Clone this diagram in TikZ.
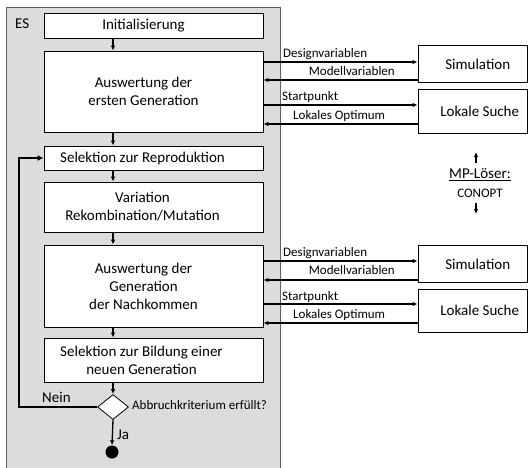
\documentclass[tikz,border=0pt]{standalone}
\usepackage{fontspec}
\setmainfont{Carlito}
\usetikzlibrary{arrows.meta}
\usetikzlibrary{shapes.geometric}
\definecolor{esgray}{HTML}{DCDCDC}
\definecolor{esframe}{HTML}{606060}

\begin{document}
\begin{tikzpicture}[x=1pt,y=-1pt,
    box/.style={draw=black,fill=white,line width=0.8pt,inner sep=0pt},
    txt/.style={align=center,font=\fontsize{15}{18}\selectfont,inner sep=0pt},
    lbl/.style={font=\fontsize{13}{15}\selectfont,inner sep=1pt},
    arr/.style={line width=1.3pt,-{Latex[length=5pt,width=4.5pt]}}]
  \useasboundingbox (0,0) rectangle (528,467);

  % ES frame
  \node[draw=esframe,fill=esgray,line width=0.9pt,minimum width=274pt,
    minimum height=470pt,inner sep=0pt](es) at (143.5,242) {};
  \node[txt,anchor=west](eslbl) at (15,24) {ES};

  % left column (frames first, text a bit left of centre)
  \node[box,minimum width=219pt,minimum height=25pt](init) at (153.5,25.5) {};
  \node[box,minimum width=219pt,minimum height=81pt](aw1) at (153.5,91.5) {};
  \node[box,minimum width=219pt,minimum height=24pt](sel) at (153.5,158) {};
  \node[box,minimum width=219pt,minimum height=50pt](var) at (153.5,207) {};
  \node[box,minimum width=219pt,minimum height=82pt](aw2) at (153.5,286) {};
  \node[box,minimum width=219pt,minimum height=44pt](selb) at (153.5,360) {};
  \node[txt](initt) at ([xshift=-10pt]init.center) {Initialisierung};
  \node[txt](aw1t) at ([xshift=-10pt]aw1.center) {Auswertung der\\ersten Generation};
  \node[txt](selt) at ([xshift=-11pt]sel.center) {Selektion zur Reproduktion};
  \node[txt](vart) at ([xshift=-11pt]var.center) {Variation\\Rekombination/Mutation};
  \node[txt](aw2t) at ([xshift=-10pt]aw2.center) {Auswertung der\\Generation\\der Nachkommen};
  \node[txt](selbt) at ([xshift=-12pt]selb.center) {Selektion zur Bildung einer\\neuen Generation};

  \node[draw=black,fill=white,line width=0.8pt,diamond,minimum width=31pt,
    minimum height=25pt,inner sep=0pt](ab) at (113,407) {};
  \node[lbl,anchor=west](abt) at (131,405) {Abbruchkriterium erfüllt?};
  \node[fill=black,circle,minimum size=13pt,inner sep=0pt](end) at (112,452) {};

  \draw[arr] (init.south -| ab) -- (aw1.north -| ab);
  \draw[arr] (aw1.south -| ab) -- (sel.north -| ab);
  \draw[arr] (sel.south -| ab) -- (var.north -| ab);
  \draw[arr] (var.south -| ab) -- (aw2.north -| ab);
  \draw[arr] (aw2.south -| ab) -- (selb.north -| ab);
  \draw[arr] (selb.south -| ab) -- (ab.north);
  \draw[arr] (ab.south) -- (end.north);
  \node[txt,anchor=west](ja) at (117,435) {Ja};

  % loop back
  \coordinate(back) at (19,407);
  \draw[line width=2.6pt,-{Latex[length=6pt,width=6pt]}] (ab.west) -- (back) |- (sel.west);
  \node[txt,anchor=west](nein) at (42,397) {Nein};

  % right column
  \node[box,minimum width=109.5pt,minimum height=37pt](sim1) at (472.75,63.5) {};
  \node[box,minimum width=109.5pt,minimum height=44pt](ls1) at (472.75,111) {};
  \node[box,minimum width=109.5pt,minimum height=37pt](sim2) at (472.75,263.5) {};
  \node[box,minimum width=109.5pt,minimum height=43pt](ls2) at (472.75,310.5) {};
  \node[txt](sim1t) at ([xshift=5pt,yshift=-1pt]sim1.center) {Simulation};
  \node[txt](ls1t) at ([xshift=7pt]ls1.center) {Lokale Suche};
  \node[txt](sim2t) at ([xshift=5pt,yshift=-1pt]sim2.center) {Simulation};
  \node[txt](ls2t) at ([xshift=7pt]ls2.center) {Lokale Suche};

  \draw[arr] (aw1.east |- 0,62) -- (sim1.west |- 0,62);
  \draw[arr] (sim1.west |- 0,80) -- (aw1.east |- 0,80);
  \draw[arr] (aw1.east |- 0,105) -- (ls1.west |- 0,105);
  \draw[arr] (ls1.west |- 0,124) -- (aw1.east |- 0,124);
  \node[lbl,anchor=west](dv1) at (282,54) {Designvariablen};
  \node[lbl,anchor=east](mv1) at (396,71) {Modellvariablen};
  \node[lbl,anchor=west](sp1) at (281,97) {Startpunkt};
  \node[lbl,anchor=west](lo1) at (292,116) {Lokales Optimum};

  \draw[arr] (aw2.east |- 0,261) -- (sim2.west |- 0,261);
  \draw[arr] (sim2.west |- 0,280) -- (aw2.east |- 0,280);
  \draw[arr] (aw2.east |- 0,304) -- (ls2.west |- 0,304);
  \draw[arr] (ls2.west |- 0,323) -- (aw2.east |- 0,323);
  \node[lbl,anchor=west](dv2) at (282,253) {Designvariablen};
  \node[lbl,anchor=east](mv2) at (396,270) {Modellvariablen};
  \node[lbl,anchor=west](sp2) at (281,297) {Startpunkt};
  \node[lbl,anchor=west](lo2) at (292,315) {Lokales Optimum};

  % solver
  \node[txt](mp) at (480,175) {\underline{MP-Löser:}};
  \node[lbl](conopt) at (480,193) {CONOPT};
  \coordinate(upa) at (476,163);
  \coordinate(upb) at (476,152);
  \coordinate(dna) at (476,203);
  \coordinate(dnb) at (476,214);
  \draw[arr] (upa) -- (upb);
  \draw[arr] (dna) -- (dnb);
\end{tikzpicture}
\end{document}
